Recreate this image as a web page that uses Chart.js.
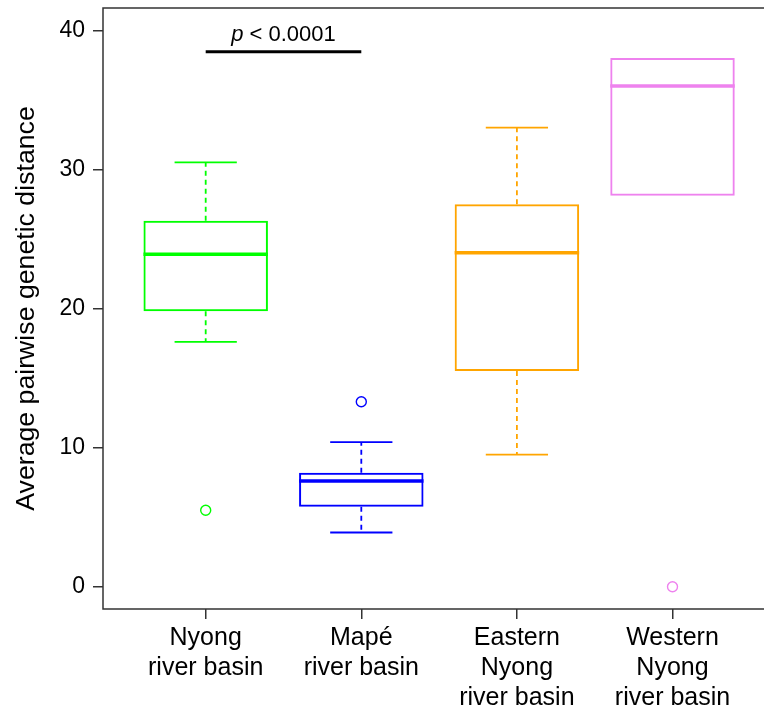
<!DOCTYPE html>
<html lang="en">
<head>
  <meta charset="UTF-8">
  <title>Average pairwise genetic distance by river basin</title>
  <script src="https://cdn.jsdelivr.net/npm/chart.js"></script>
  <style>
    html, body {
      margin: 0;
      padding: 0;
      background: #fff;
      overflow: hidden;
    }
    .chart-container {
      width: 764px;
      height: 715px;
    }
  </style>
</head>
<body>
  <div class="chart-container">
    <canvas id="boxChart"></canvas>
  </div>

  <script>
    // Box plot summary values
    const categories = [
      ["Nyong", "river basin"],
      ["Mapé", "river basin"],
      ["Eastern", "Nyong", "river basin"],
      ["Western", "Nyong", "river basin"]
    ];
    const whiskerLow  = [17.6, 3.9, 9.5, 28.1];
    const q1          = [19.8, 5.75, 15.5, 28.1];
    const medians     = [23.9, 7.6, 24.0, 36.0];
    const q3          = [26.3, 8.2, 27.5, 38.0];
    const whiskerHigh = [30.5, 10.4, 33.0, 38.0];
    const outliers    = [[5.5], [13.3], [], [0]];
    const yTicks      = [0, 10, 20, 30, 40];

    const colors = ['#00FF00', '#0000FF', '#FFA500', '#EE82EE'];
    const FONT = '"Liberation Sans", Arial, Helvetica, sans-serif';
    const AXIS = '#333333';

    // Boxes as floating bars (Q1..Q3)
    const boxData = categories.map((c, i) => ({ x: i + 1, y: [q1[i], q3[i]] }));

    // Outlier points
    const outlierData = [];
    const outlierColors = [];
    outliers.forEach((list, i) => {
      list.forEach(v => {
        outlierData.push({ x: i + 1, y: v });
        outlierColors.push(colors[i]);
      });
    });

    // Medians, whiskers, frame and p-value bar
    const boxExtras = {
      id: 'boxExtras',
      afterDatasetsDraw(chart) {
        const { ctx, chartArea, scales: { x, y } } = chart;
        const boxMeta = chart.getDatasetMeta(0);
        ctx.save();

        categories.forEach((c, i) => {
          const bar = boxMeta.data[i];
          const cx = x.getPixelForValue(i + 1);
          const half = bar.width / 2;
          const capHalf = half / 2;
          ctx.strokeStyle = colors[i];

          // whiskers (dashed)
          ctx.lineWidth = 1.8;
          ctx.setLineDash([5, 4]);
          ctx.beginPath();
          if (whiskerHigh[i] > q3[i]) {
            ctx.moveTo(cx, y.getPixelForValue(q3[i]));
            ctx.lineTo(cx, y.getPixelForValue(whiskerHigh[i]));
          }
          if (whiskerLow[i] < q1[i]) {
            ctx.moveTo(cx, y.getPixelForValue(q1[i]));
            ctx.lineTo(cx, y.getPixelForValue(whiskerLow[i]));
          }
          ctx.stroke();

          // caps (none when the whisker sits on the box)
          ctx.setLineDash([]);
          ctx.beginPath();
          if (whiskerHigh[i] > q3[i]) {
            const py = y.getPixelForValue(whiskerHigh[i]);
            ctx.moveTo(cx - capHalf, py);
            ctx.lineTo(cx + capHalf, py);
          }
          if (whiskerLow[i] < q1[i]) {
            const py = y.getPixelForValue(whiskerLow[i]);
            ctx.moveTo(cx - capHalf, py);
            ctx.lineTo(cx + capHalf, py);
          }
          ctx.stroke();

          // median
          ctx.lineWidth = 3.5;
          ctx.beginPath();
          const my = y.getPixelForValue(medians[i]);
          ctx.moveTo(cx - half, my);
          ctx.lineTo(cx + half, my);
          ctx.stroke();
        });

        // frame: left, top, bottom
        ctx.strokeStyle = AXIS;
        ctx.lineWidth = 1.5;
        ctx.beginPath();
        ctx.moveTo(chartArea.right + 2, chartArea.top);
        ctx.lineTo(chartArea.left, chartArea.top);
        ctx.lineTo(chartArea.left, chartArea.bottom);
        ctx.lineTo(chartArea.right + 2, chartArea.bottom);
        ctx.stroke();

        // significance bar between first two groups
        const x1 = x.getPixelForValue(1);
        const x2 = x.getPixelForValue(2);
        const by = y.getPixelForValue(38.45);
        ctx.strokeStyle = '#000';
        ctx.lineWidth = 3;
        ctx.beginPath();
        ctx.moveTo(x1, by);
        ctx.lineTo(x2, by);
        ctx.stroke();

        const ty = y.getPixelForValue(39.2);
        const italic = 'italic 22px ' + FONT;
        const normal = '22px ' + FONT;
        ctx.fillStyle = '#000';
        ctx.textBaseline = 'alphabetic';
        ctx.font = italic;
        const wp = ctx.measureText('p').width;
        ctx.font = normal;
        const rest = ' < 0.0001';
        const wr = ctx.measureText(rest).width;
        const start = (x1 + x2) / 2 - (wp + wr) / 2;
        ctx.textAlign = 'left';
        ctx.font = italic;
        ctx.fillText('p', start, ty);
        ctx.font = normal;
        ctx.fillText(rest, start + wp, ty);

        ctx.restore();
      }
    };

    const ctx = document.getElementById('boxChart').getContext('2d');
    new Chart(ctx, {
      type: 'bar',
      data: {
        datasets: [
          {
            type: 'bar',
            data: boxData,
            backgroundColor: 'rgba(255,255,255,0)',
            borderColor: colors,
            borderWidth: 2,
            borderSkipped: false,
            categoryPercentage: 0.8,
            barPercentage: 1.0
          },
          {
            type: 'scatter',
            data: outlierData,
            pointStyle: 'circle',
            pointRadius: 5,
            pointBorderWidth: 1.4,
            pointBackgroundColor: 'rgba(255,255,255,0)',
            pointBorderColor: outlierColors
          }
        ]
      },
      options: {
        responsive: true,
        maintainAspectRatio: false,
        animation: false,
        layout: { autoPadding: false, padding: { top: 8, left: 0, right: 0, bottom: 0 } },
        plugins: {
          legend: { display: false },
          tooltip: { enabled: false }
        },
        scales: {
          x: {
            type: 'linear',
            min: 0.34,
            max: 4.588,
            offset: false,
            afterBuildTicks(scale) {
              scale.ticks = categories.map((c, i) => ({ value: i + 1 }));
            },
            afterFit(scale) {
              scale.height = 106;
              scale.paddingLeft = 0;
              scale.paddingRight = 0;
            },
            grid: {
              offset: false,
              drawOnChartArea: false,
              drawTicks: true,
              tickLength: 10,
              color: AXIS,
              lineWidth: 1.5
            },
            border: { display: false },
            ticks: {
              autoSkip: false,
              maxRotation: 0,
              padding: 4,
              color: '#000',
              font: { family: FONT, size: 25, lineHeight: 1.2 },
              callback: (v) => categories[v - 1]
            }
          },
          y: {
            min: -1.6,
            max: 41.6,
            afterBuildTicks(scale) {
              scale.ticks = yTicks.map(v => ({ value: v }));
            },
            afterFit(scale) {
              scale.width = 103;
              scale.paddingTop = 0;
              scale.paddingBottom = 0;
            },
            grid: {
              drawOnChartArea: false,
              drawTicks: true,
              tickLength: 10,
              color: AXIS,
              lineWidth: 1.5
            },
            border: { display: false },
            ticks: {
              padding: 8,
              color: '#000',
              font: { family: FONT, size: 23 }
            },
            title: {
              display: true,
              text: 'Average pairwise genetic distance',
              color: '#000',
              font: { family: FONT, size: 26.7 },
              padding: { top: 11, bottom: 0 }
            }
          }
        }
      },
      plugins: [boxExtras]
    });
  </script>
</body>
</html>
